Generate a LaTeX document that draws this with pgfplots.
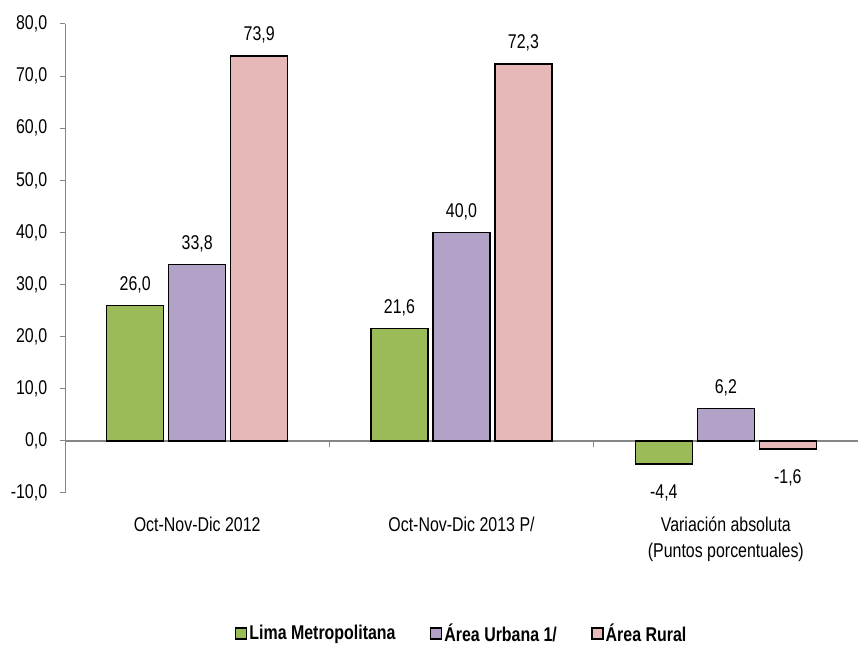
\documentclass[border=0pt]{standalone}
\usepackage{fontspec}
\setmainfont{Liberation Sans}[FakeStretch=0.8]
\usepackage{pgfplots}
\pgfplotsset{compat=1.18}
\definecolor{cLima}{HTML}{9BBB59}
\definecolor{cUrb}{HTML}{B2A2C7}
\definecolor{cRur}{HTML}{E6B9B8}
\definecolor{axgray}{HTML}{868686}
\pgfkeys{/pgf/number format/.cd, fixed, fixed zerofill, precision=1, use comma, assume math mode=true}
\begin{document}
\fontsize{20}{24}\selectfont
\begin{tikzpicture}[x=1bp,y=1bp]
\useasboundingbox (0,0) rectangle (858,648);
\begin{axis}[
  at={(65bp,155bp)}, anchor=south west,
  scale only axis, width=793bp, height=469bp,
  xmin=-0.5, xmax=2.5, ymin=-10, ymax=80,
  ybar=5bp, bar width=57bp,
  axis y line*=left, axis x line*=bottom,
  x axis line style={draw=none},
  y axis line style={axgray, line width=1bp},
  xtick={0,1,2},
  xticklabels={Oct-Nov-Dic 2012, Oct-Nov-Dic 2013 P/, {Variación absoluta\\(Puntos porcentuales)}},
  xtick style={draw=none},
  xticklabel style={align=center, yshift=-12bp, font=\fontsize{20}{26}\selectfont},
  ytick={-10,0,...,80},
  ytick style={axgray, line width=1bp},
  major tick length=5bp, tick align=outside,
  yticklabel style={font=\fontsize{20}{24}\selectfont, xshift=-6bp},
  nodes near coords,
  nodes near coords style={font=\fontsize{20}{24}\selectfont, inner sep=9bp, black},
  visualization depends on={rawy \as \rawy},
  every node near coord/.append style={yshift={(\rawy<0)*(-11)+(\rawy>=0)*3}},
  legend style={at={(0.5,-0.300)}, anchor=center, draw=none, legend columns=3,
    font=\bfseries\fontsize{20}{24}\selectfont,
    nodes={inner xsep=2bp},
    /tikz/every odd column/.append style={column sep=0bp},
    /tikz/every even column/.append style={column sep=32bp}},
  legend image code/.code={\draw[#1, draw=black, line width=1.8bp] (0bp,-5bp) rectangle (11bp,6bp);},
]
\draw[axgray, line width=1.5bp] (axis cs:-0.5,0) -- (axis cs:2.5,0);
\draw[axgray, line width=1bp] (axis cs:0.5,0) -- (axis cs:0.5,-1.15);
\draw[axgray, line width=1bp] (axis cs:1.5,0) -- (axis cs:1.5,-1.15);
\addplot[fill=cLima, draw=black, line width=1.5bp] coordinates {(0,26.0) (1,21.6) (2,-4.4)};
\addplot[fill=cUrb, draw=black, line width=1.5bp] coordinates {(0,33.8) (1,40.0) (2,6.2)};
\addplot[fill=cRur, draw=black, line width=1.5bp] coordinates {(0,73.9) (1,72.3) (2,-1.6)};
\legend{Lima Metropolitana, Área Urbana 1/, Área Rural}
\end{axis}
\end{tikzpicture}
\end{document}
